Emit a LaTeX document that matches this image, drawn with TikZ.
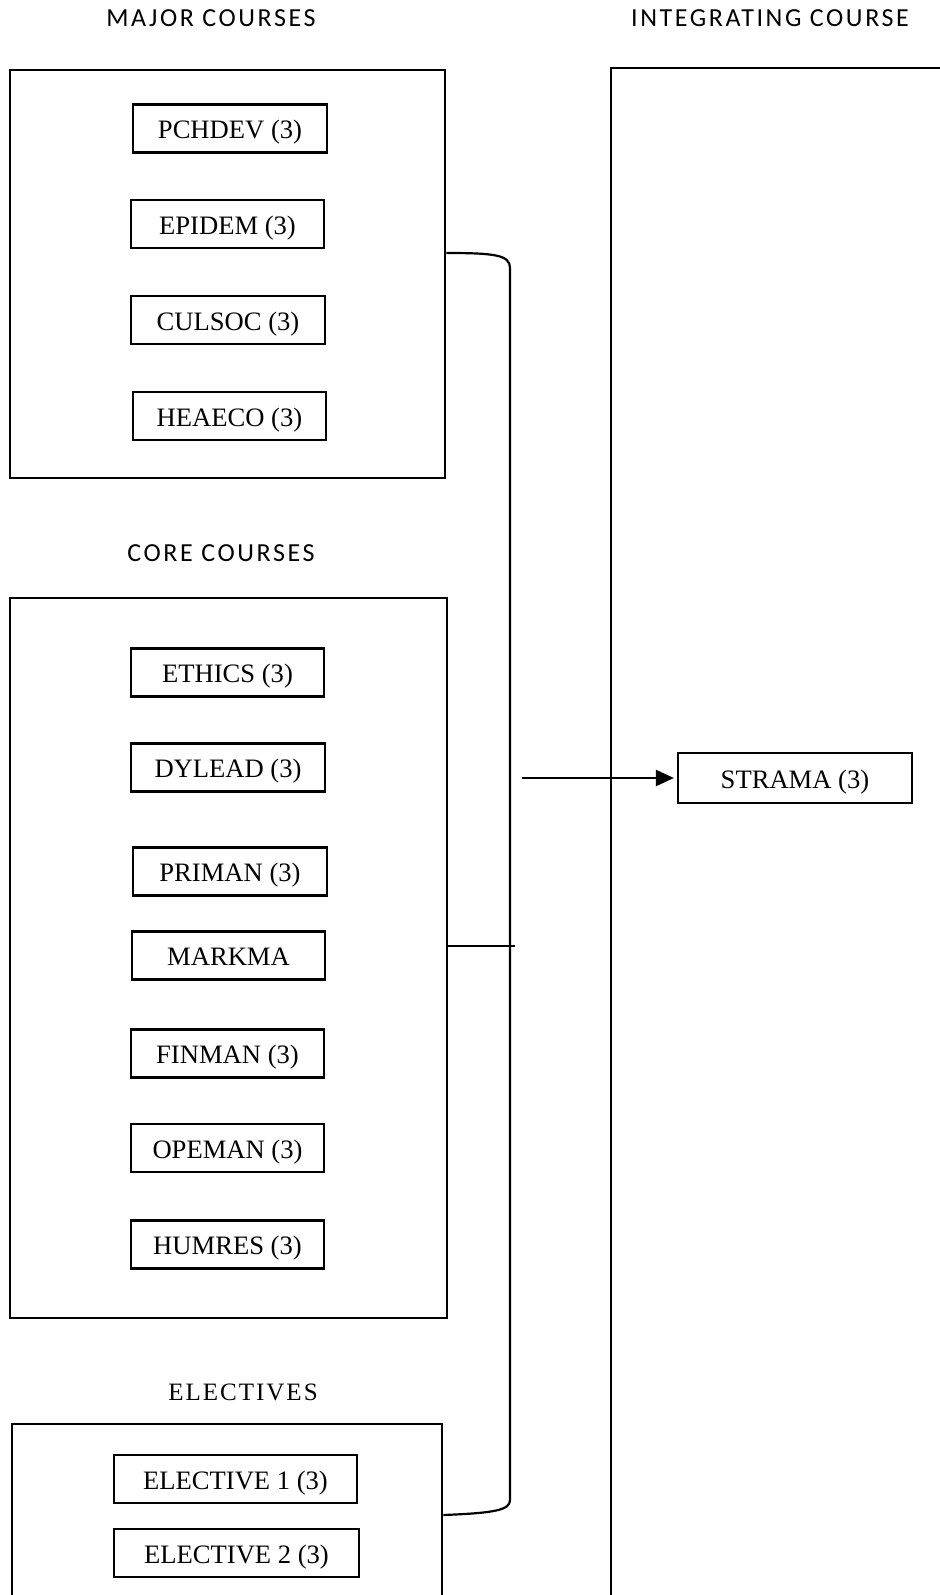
\documentclass[tikz,border=0pt]{standalone}
\usepackage{fontspec}
\setmainfont{Liberation Serif}
\newfontfamily\headfont[LetterSpace=10]{Carlito}
\newfontfamily\elecfont[LetterSpace=8]{Liberation Serif}
\usetikzlibrary{arrows.meta}
\begin{document}
\begin{tikzpicture}[x=0.5pt,y=-0.5pt,
  course/.style={draw,line width=1.1pt,inner sep=0pt,minimum height=24pt,text height=13.2pt,text depth=2.9pt,font=\fontsize{13.3}{15}\selectfont},
  group/.style={draw,line width=1.4pt,inner sep=0pt},
  heading/.style={font=\headfont\fontsize{13}{15}\selectfont,inner sep=0pt},
  elecheading/.style={font=\elecfont\fontsize{12.5}{14}\selectfont,inner sep=0pt},
  conn/.style={line width=1.1pt},
]
\path[use as bounding box,clip] (0,0) rectangle (940,1595);

% headings
\node[heading] (hmajor) at (211,18.5) {MAJOR COURSES};
\node[heading] (hinteg) at (770,18.5) {INTEGRATING COURSE};
\node[heading] (hcore) at (221,553) {CORE COURSES};
\node[elecheading] (helec) at (243,1392) {ELECTIVES};

% group boxes
\node[group,minimum width=217.5pt,minimum height=204pt] (major) at (227.5,274) {};
\node[group,minimum width=218.5pt,minimum height=360pt] (core) at (228.5,958) {};
\node[group,minimum width=215pt,minimum height=98pt] (elec) at (227,1522) {};
\node[group,minimum width=179.5pt,minimum height=781pt] (integ) at (790.5,849) {};

% major courses
\node[course,minimum width=97pt] (pchdev) at (230,128.5) {PCHDEV (3)};
\node[course,minimum width=96.5pt] (epidem) at (227.5,224) {EPIDEM (3)};
\node[course,minimum width=97pt] (culsoc) at (228,320) {CULSOC (3)};
\node[course,minimum width=96.5pt] (heaeco) at (229.5,416) {HEAECO (3)};

% core courses
\node[course,minimum width=96.5pt] (ethics) at (227.5,672.5) {ETHICS (3)};
\node[course,minimum width=97pt] (dylead) at (228,767.5) {DYLEAD (3)};
\node[course,minimum width=97pt] (priman) at (230,871.5) {PRIMAN (3)};
\node[course,minimum width=96.5pt] (markma) at (228.5,955.5) {MARKMA};
\node[course,minimum width=96.5pt] (finman) at (227.5,1053.5) {FINMAN (3)};
\node[course,minimum width=96.5pt] (opeman) at (227.5,1148) {OPEMAN (3)};
\node[course,minimum width=96.5pt] (humres) at (227.5,1244.5) {HUMRES (3)};

% electives
\node[course,minimum width=121.5pt] (elec1) at (235.5,1479) {ELECTIVE 1 (3)};
\node[course,minimum width=122.5pt] (elec2) at (236.5,1553) {ELECTIVE 2 (3)};

% integrating course
\node[course,minimum width=117pt,minimum height=25pt] (strama) at (795,778) {STRAMA (3)};

% bracket connector
\draw[conn] ([yshift=10.5pt]major.east) .. controls (495,253) and (510,255) .. (510,268)
  -- (510,1500) .. controls (510,1510) and (495,1513) .. ([yshift=3.5pt]elec.east);
\coordinate (midend) at (515,946);
\draw[conn] ([yshift=6pt]core.east) -- (midend);
\coordinate (arrstart) at (522,778);
\draw[conn,-{Triangle[length=9pt,width=8pt]},shorten >=1.5pt] (arrstart) -- (strama.west);
\end{tikzpicture}
\end{document}
